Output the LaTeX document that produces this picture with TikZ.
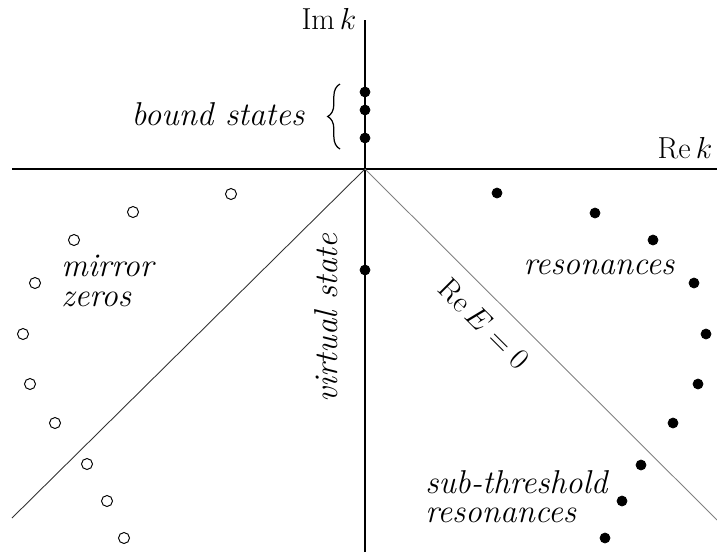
\documentclass[tikz,border=0pt]{standalone}
\usepackage{amsmath}
\usetikzlibrary{decorations.pathreplacing}

\tikzset{
  axis/.style={line width=1.1pt},
  threshold/.style={line width=0.5pt, gray},
  pole/.style={fill=black},
  zero/.style={draw=black, line width=0.55pt, fill=white},
  lbl/.style={font=\fontsize{18.8}{16.6}\selectfont, inner sep=0pt}
}

\begin{document}
\begin{tikzpicture}[x=0.02cm, y=-0.02cm]
    \useasboundingbox (0,0) rectangle (717,552);

    % --- assi del piano k ---
    \coordinate (O) at (365,169);
    \coordinate (ImTop) at (365,20);
    \coordinate (ImBot) at (365,552);
    \coordinate (ReL) at (12,169);
    \coordinate (ReR) at (717,169);
    \draw[axis] (ImBot) -- (ImTop);
    \draw[axis] (ReL) -- (ReR);

    % rette Re E = 0
    \coordinate (DL) at (12,518);
    \coordinate (DR) at (717,520);
    \draw[threshold, black!80] (O) -- (DL);
    \draw[threshold] (O) -- (DR);

    % etichette degli assi
    \node[lbl] (imk) at (329,19) {$\operatorname{Im} k$};
    \node[lbl] (rek) at (685,148) {$\operatorname{Re} k$};

    % stati legati
    \filldraw[pole] (365,92) circle (5);
    \filldraw[pole] (365,110) circle (5);
    \filldraw[pole] (365,138) circle (5);
    \coordinate (BrB) at (340,149);
    \coordinate (BrT) at (340,84);
    \draw[decorate, decoration={brace, amplitude=7pt}, line width=0.7pt] (BrB) -- (BrT);
    \node[lbl] (bound) at (218,114) {\itshape bound states};

    % stato virtuale
    \filldraw[pole] (365,270) circle (5);
    \node[lbl, rotate=90] (virtual) at (326,318) {\itshape virtual state};

    % risonanze
    \filldraw[pole] (497,193) circle (5);
    \filldraw[pole] (595,213) circle (5);
    \filldraw[pole] (653,240) circle (5);
    \filldraw[pole] (694,283) circle (5);
    \filldraw[pole] (706,334) circle (5);
    \filldraw[pole] (698,384) circle (5);
    \filldraw[pole] (673,423) circle (5);
    \filldraw[pole] (641,465) circle (5);
    \filldraw[pole] (622,501) circle (5);
    \filldraw[pole] (605,538) circle (5);
    \node[lbl] (res) at (599,267) {\itshape resonances};
    \node[lbl, anchor=west, align=left] (subres) at (425,497) {\itshape sub-threshold\\\itshape resonances};

    % zeri speculari
    \draw[zero] (231,194) circle (5.5);
    \draw[zero] (133,212) circle (5.5);
    \draw[zero] (74,240) circle (5.5);
    \draw[zero] (35,283) circle (5.5);
    \draw[zero] (23,334) circle (5.5);
    \draw[zero] (30,384) circle (5.5);
    \draw[zero] (55,423) circle (5.5);
    \draw[zero] (87,464) circle (5.5);
    \draw[zero] (107,501) circle (5.5);
    \draw[zero] (124,538) circle (5.5);
    \node[lbl, anchor=west, align=left] (mirror) at (61,281) {\itshape mirror\\\itshape zeros};

    % Re E = 0
    \node[lbl, rotate=-45] (reE) at (484,324) {$\operatorname{Re} E = 0$};
\end{tikzpicture}
\end{document}
